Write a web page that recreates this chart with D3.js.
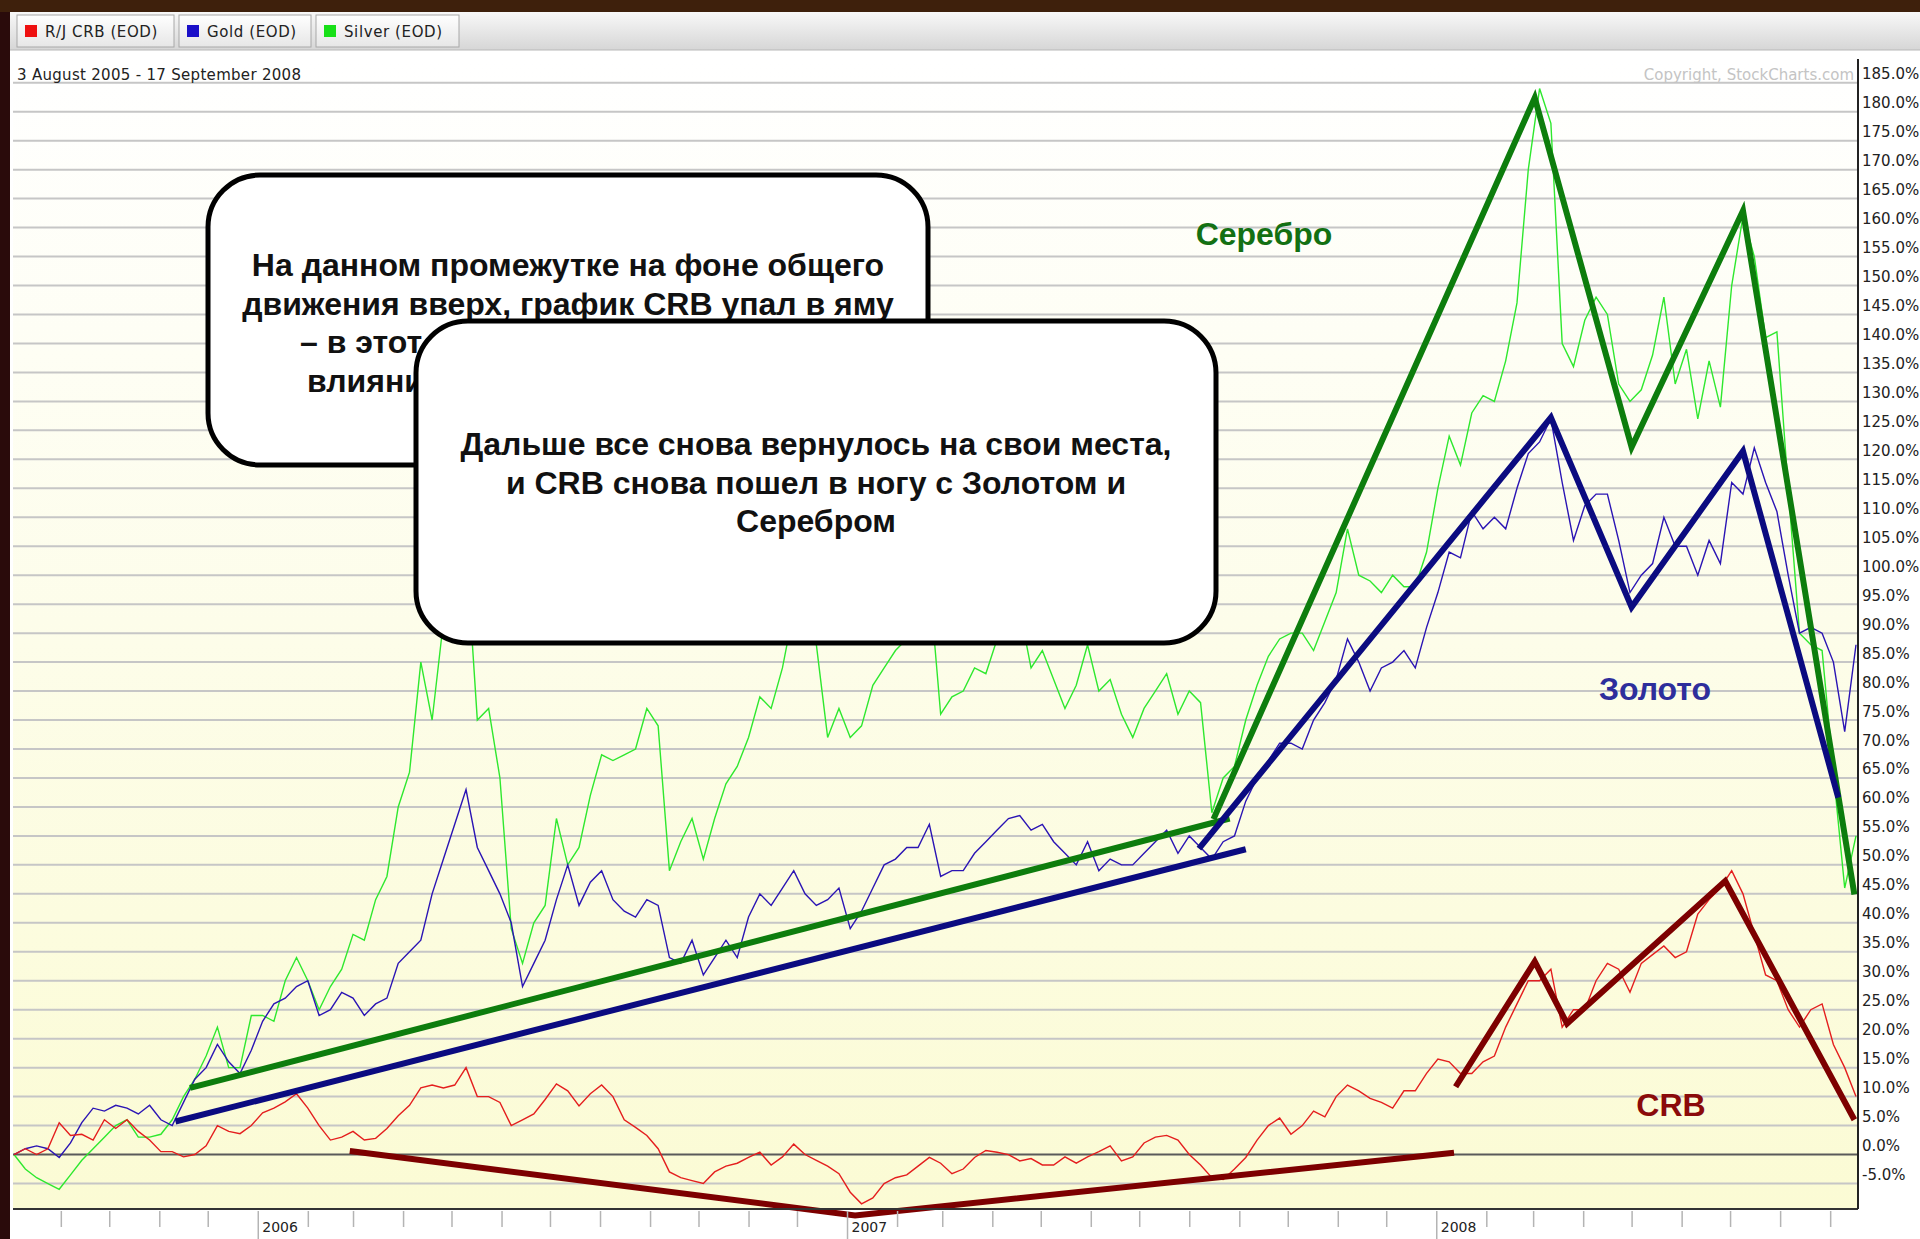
<!DOCTYPE html>
<html>
<head>
<meta charset="utf-8">
<script src="https://cdnjs.cloudflare.com/ajax/libs/d3/7.8.5/d3.min.js"></script>
<style>
body{margin:0;background:#2a0b0b;overflow:hidden}
svg{display:block}
</style>
</head>
<body>
<script>
// weekly samples, % change since 3 Aug 2005
var startDate = "2005-08-03";
var endDate = "2008-09-17";
var stepDays = 7;

var crb = [0,1,0,1,5.5,3.3,3.5,2.5,6,4.5, 6,4,2.5,0.5,0.5,-0.4,0,1.5,5,4, 3.6,5,7.2,8,9.1,10.5,8,5,2.5,3,
  4,2.5,2.8,4.5,6.7,8.5,11.5,12,11.5,12, 15,10,10,9,5,6,7,9.5,12.2,11, 8.4,10.5,12,10,6,4.7,3.3,
  1,-3,-4, -4.5,-5,-3,-2,-1.5,-0.5,0.4,-1.8,-0.4,1.8, 0,-1,-2,-3.3,-6.5,-8.5,-7.5,-5,-4,-3.5,
  -2,-0.5,-1.5,-3.3,-2.5,-0.5,0.7,0.4,0,-1.1, -0.7,-1.8,-1.8,-0.4,-1.5,-0.4,0.5,1.5,-1.1,-0.4,
  2,3,3.3,2.5,0,-1.8,-4,-4.3,-2.5,-0.5, 2.5,5,6.3,3.5,5,7.5,6.5,10,12,11,
  9.7,9,8,11,11,14,16.5,16,14,14, 16,17,22,26,30,30,32,22,25,25,
  30,33,32,28,33,34.5,36,34,35,41.5, 44,46,49,45,38,31,30,25,22,25, 26,19,15,10];

var gold = [0,1,1.5,1,-0.5,2,5.5,8,7.5,8.5, 8,7,8.5,6,5,9,13,15,19,16, 14,18,23,26,27,29,30,24,25,28,
  27,24,26,27,33,35,37,45,51,57, 63,53,49,45,40,29,33,37,44,50, 43,47,49,44,42,41,44,
  43,34,33, 37,31,34,37,34,41,45,43,46,49, 45,43,44,46,39,42,46,50,51,53,
  53,57,48,49,49,52,54,56,58,58.5, 56,57,54,52,50,54,49,51,50,50,
  52,54,56,52,55,53,51,54,55,61, 65,68,71,71,70,75,78,82,89,85,
  80,84,85,87,84,91,97,104,103,111, 108,110,108,115,121,123,127,116,106,112,
  114,114,106,97,100,102,110,105,105,100, 106,102,116,114,122,116,111,100,90,91, 90,85,73,88];

var silver = [0,-2.5,-4,-5,-6,-3.5,-1,1,3,5, 6,3,3,3.5,6,10,13,17,22,15, 15,24,24,23,30,34,30,25,29,32,
  38,37,44,48,60,66,85,75,92,98, 105,75,77,65,39,33,40,43,58,50, 53,62,69,68,69,70,77,
  74,49,54, 58,51,58,64,67,72,79,77,84,94, 99,88,72,77,72,74,81,84,87,89,
  97,99,76,79,80,84,83,89,95,94, 84,87,82,77,81,88,80,82,76,72,
  77,80,83,76,80,78,59,65,67,75, 81,86,89,90,90,87,92,97,108,100,
  99,97,100,98,98,104,115,124,119,128, 131,130,137,147,170,184,178,140,136,144,
  148,145,133,130,132,138,148,133,139,127, 137,129,150,162,155,141,142,115,90,88, 87,66,46,55];

var yTicks = d3.range(-5, 186, 5);
var seriesNames = ["R/J CRB (EOD)", "Gold (EOD)", "Silver (EOD)"];
var seriesColors = ["#e41e1e", "#2a14b4", "#2ee82e"];
var legendColors = ["#ee1010", "#1a0fc8", "#18e018"];

// hand-drawn annotation lines, [date, %]
var silverTrend = [["2005-11-20", 11.5], ["2007-08-26", 58.0]];
var silverZig = [["2007-08-16", 57.9], ["2008-03-02", 182.4], ["2008-05-01", 122.1], ["2008-07-09", 162.9], ["2008-09-16", 44.9]];
var goldTrend = [["2005-11-11", 5.7], ["2007-09-05", 52.7]];
var goldZig = [["2007-08-07", 52.8], ["2008-03-12", 127.2], ["2008-05-01", 94.5], ["2008-07-09", 121.4], ["2008-09-06", 61.6]];
var crbV = [["2006-02-27", 0.6], ["2007-01-06", -10.5], ["2008-01-12", 0.3]];
var crbZig = [["2008-01-13", 11.7], ["2008-03-02", 33.3], ["2008-03-22", 22.6], ["2008-06-28", 47.2], ["2008-09-16", 6.0]];

var box1Lines = ["На данном промежутке на фоне общего", "движения вверх, график CRB упал в яму",
  "– в этот момент сказалось", "влияние других товаров"];
var box2Lines = ["Дальше все снова вернулось на свои места,", "и CRB снова пошел в ногу с Золотом и", "Серебром"];

var W = 1920, H = 1239;
var plot = {left: 13, right: 1858, top: 59, bottom: 1209};
var parse = d3.timeParse("%Y-%m-%d");
var t0 = parse(startDate);
var dates = crb.map(function(d, i) { return d3.timeDay.offset(t0, i * stepDays); });

var x = d3.scaleTime().domain([t0, parse(endDate)]).range([14, 1856]);
var y = d3.scaleLinear().domain([-9.4, 189.1]).range([plot.bottom, plot.top]);

var svg = d3.select("body").append("svg").attr("width", W).attr("height", H);
var defs = svg.append("defs");

var bg = defs.append("linearGradient").attr("id", "bg").attr("x1", 0).attr("y1", 0).attr("x2", 0).attr("y2", 1);
bg.append("stop").attr("offset", "0%").attr("stop-color", "#ffffff");
bg.append("stop").attr("offset", "100%").attr("stop-color", "#fbfbd4");
var bar = defs.append("linearGradient").attr("id", "bar").attr("x1", 0).attr("y1", 0).attr("x2", 0).attr("y2", 1);
bar.append("stop").attr("offset", "0%").attr("stop-color", "#f8f8f8");
bar.append("stop").attr("offset", "100%").attr("stop-color", "#d6d6d6");
var tab = defs.append("linearGradient").attr("id", "tab").attr("x1", 0).attr("y1", 0).attr("x2", 0).attr("y2", 1);
tab.append("stop").attr("offset", "0%").attr("stop-color", "#ffffff");
tab.append("stop").attr("offset", "100%").attr("stop-color", "#e6e6e6");

// dark frame + white panel
svg.append("rect").attr("width", W).attr("height", H).attr("fill", "#2a0b0b");
svg.append("rect").attr("width", W).attr("height", 12).attr("fill", "#3e200c");
svg.append("rect").attr("x", 10).attr("y", 12).attr("width", W - 10).attr("height", H - 12).attr("fill", "#ffffff");
svg.append("rect").attr("x", 10).attr("y", 12).attr("width", W - 10).attr("height", 38).attr("fill", "url(#bar)");
svg.append("line").attr("x1", 10).attr("x2", W).attr("y1", 50).attr("y2", 50).attr("stroke", "#b8b8b8");

// legend tabs
var tabX = [17, 179, 316], tabW = [157, 132, 143];
var tabs = svg.append("g").selectAll("g").data(seriesNames).enter().append("g")
  .attr("transform", function(d, i) { return "translate(" + tabX[i] + ",15)"; });
tabs.append("rect").attr("width", function(d, i) { return tabW[i]; }).attr("height", 32)
  .attr("fill", "url(#tab)").attr("stroke", "#a8a8a8");
tabs.append("rect").attr("x", 8).attr("y", 10).attr("width", 12).attr("height", 12)
  .attr("fill", function(d, i) { return legendColors[i]; });
tabs.append("text").attr("x", 28).attr("y", 22).attr("font-family", "DejaVu Sans").attr("font-size", 15)
  .attr("letter-spacing", 0.6).attr("fill", "#222").text(function(d) { return d; });

// plot background
svg.append("rect").attr("x", plot.left).attr("y", plot.top).attr("width", plot.right - plot.left)
  .attr("height", plot.bottom - plot.top).attr("fill", "url(#bg)");

// grid
svg.append("g").selectAll("line").data(yTicks).enter().append("line")
  .attr("x1", plot.left).attr("x2", plot.right)
  .attr("y1", function(d) { return y(d); }).attr("y2", function(d) { return y(d); })
  .attr("stroke", function(d) { return d === 0 ? "#5a5a5a" : "#c6c6c6"; })
  .attr("stroke-width", 2);

// texts at the top of the plot
svg.append("text").attr("x", 17).attr("y", 80).attr("font-family", "DejaVu Sans").attr("font-size", 15)
  .attr("letter-spacing", 0.3).attr("fill", "#222").text("3 August 2005 - 17 September 2008");
svg.append("text").attr("x", 1854).attr("y", 80).attr("text-anchor", "end").attr("font-family", "DejaVu Sans")
  .attr("font-size", 15).attr("fill", "#c4c4c4").text("Copyright, StockCharts.com");

// series
var line = d3.line().x(function(d, i) { return x(dates[i]); }).y(function(d) { return y(d); });
[silver, gold, crb].forEach(function(s, k) {
  var col = [seriesColors[2], seriesColors[1], seriesColors[0]][k];
  svg.append("path").datum(s).attr("d", line).attr("fill", "none").attr("stroke", col).attr("stroke-width", 1.4);
});

// annotation lines
var aline = d3.line().x(function(d) { return x(parse(d[0])); }).y(function(d) { return y(d[1]); });
[[silverTrend, "#0d7d0d"], [silverZig, "#0d7d0d"], [goldTrend, "#0b0b80"], [goldZig, "#0b0b80"],
 [crbV, "#7d0000"], [crbZig, "#7d0000"]].forEach(function(a) {
  svg.append("path").datum(a[0]).attr("d", aline).attr("fill", "none").attr("stroke", a[1])
    .attr("stroke-width", 6).attr("stroke-linejoin", "miter");
});

// frame
svg.append("line").attr("x1", plot.left).attr("x2", plot.right).attr("y1", plot.bottom).attr("y2", plot.bottom)
  .attr("stroke", "#333").attr("stroke-width", 2);
svg.append("line").attr("x1", plot.right).attr("x2", plot.right).attr("y1", plot.top).attr("y2", plot.bottom)
  .attr("stroke", "#222").attr("stroke-width", 2);

// right axis labels
var yAxis = d3.axisRight(y).tickValues(yTicks).tickSize(0).tickPadding(4)
  .tickFormat(function(d) { return d.toFixed(1) + "%"; });
var gy = svg.append("g").attr("transform", "translate(" + plot.right + ",0)").call(yAxis);
gy.select(".domain").remove();
gy.selectAll("text").attr("dy", -4).attr("font-family", "DejaVu Sans").attr("font-size", 15).attr("fill", "#222");

// bottom axis: monthly ticks, year labels
var months = d3.timeMonth.range(parse("2005-09-01"), parse(endDate));
var xAxis = d3.axisBottom(x).tickValues(months).tickSize(16)
  .tickFormat(function(d) { return d.getMonth() === 0 ? d.getFullYear() : ""; });
var gx = svg.append("g").attr("transform", "translate(0," + (plot.bottom + 2) + ")").call(xAxis);
gx.select(".domain").remove();
gx.selectAll(".tick line").attr("stroke", "#b4b4b4").attr("stroke-width", 1.5)
  .attr("y2", function(d) { return d.getMonth() === 0 ? 30 : 16; });
gx.selectAll(".tick text").attr("text-anchor", "start").attr("x", 4).attr("y", 21).attr("dy", 0)
  .attr("font-family", "DejaVu Sans").attr("font-size", 14).attr("fill", "#222");

// callout boxes
function box(x0, y0, w, h, lines, cx, base, lh, anchors) {
  var g = svg.append("g");
  g.append("rect").attr("x", x0).attr("y", y0).attr("width", w).attr("height", h).attr("rx", 52).attr("ry", 52)
    .attr("fill", "#fff").attr("stroke", "#000").attr("stroke-width", 5);
  g.selectAll("text").data(lines).enter().append("text")
    .attr("x", function(d, i) { return anchors && anchors[i] ? anchors[i] : cx; })
    .attr("y", function(d, i) { return base + i * lh; })
    .attr("text-anchor", function(d, i) { return anchors && anchors[i] ? "start" : "middle"; })
    .attr("font-family", "Liberation Sans, Arial, sans-serif").attr("font-weight", "bold")
    .attr("font-size", 32).attr("fill", "#111").text(function(d) { return d; });
}
box(208, 175, 720, 290, box1Lines, 568, 276, 38.5, [null, null, 300, 307]);
box(416, 321, 800, 322, box2Lines, 816, 455, 38.5);

// series labels
var labels = [["Серебро", 1264, 245, "#137013"], ["Золото", 1655, 700, "#2e2e9c"], ["CRB", 1671, 1116, "#8a0a0a"]];
svg.append("g").selectAll("text").data(labels).enter().append("text")
  .attr("x", function(d) { return d[1]; }).attr("y", function(d) { return d[2]; })
  .attr("text-anchor", "middle").attr("font-family", "Liberation Sans, Arial, sans-serif")
  .attr("font-weight", "bold").attr("font-size", 32)
  .attr("fill", function(d) { return d[3]; }).text(function(d) { return d[0]; });
</script>
</body>
</html>
